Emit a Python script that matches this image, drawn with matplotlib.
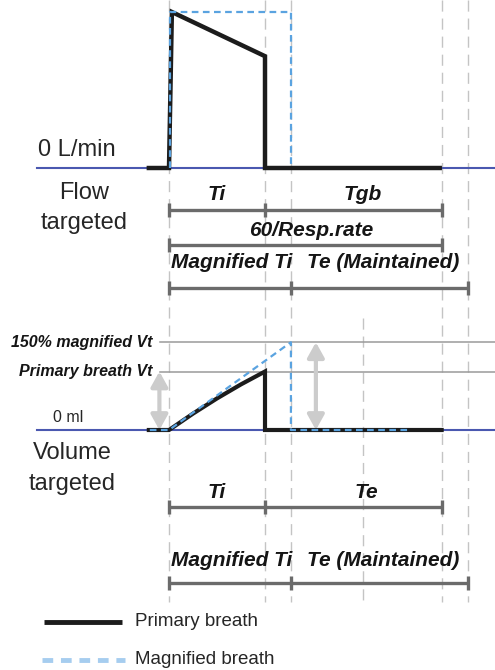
import matplotlib.pyplot as plt

plt.rcParams["font.family"] = ["Liberation Sans", "DejaVu Sans"]

# timing (s) measured from start of inspiration
T_I = 1.0          # primary inspiratory time
T_I_MAG = 1.27     # magnified inspiratory time
T_CYCLE = 2.84     # 60/Resp.rate
T_CYCLE_MAG = 3.11 # magnified Ti + maintained Te
T_MID = 2.02

# flow-targeted breath (L/min)
flow_t = [-0.21, 0.0, 0.03, T_I, T_I, 2.82]
flow_v = [0, 0, 60, 43, 0, 0]
mag_flow_t = [0.01, 0.01, T_I_MAG, T_I_MAG]
mag_flow_v = [0, 60, 60, 0]

# volume-targeted breath (ml)
VT_PRIMARY = 300
VT_MAG = 450
vol_t = [-0.21, 0.0, 0.25, 0.5, 0.75, T_I, T_I, T_CYCLE]
vol_v = [0, 0, 84, 162, 234, VT_PRIMARY, 0, 0]
mag_vol_t = [-0.2, 0.0, T_I_MAG, T_I_MAG, 2.48]
mag_vol_v = [0, 0, VT_MAG, 0, 0]

# vertical guide lines: (time, top row, bottom row)
guides = [(0.0, 0, 602), (T_I, 0, 602), (T_I_MAG, 0, 602),
          (T_MID, 318, 602), (T_CYCLE, 0, 602), (T_CYCLE_MAG, 0, 602)]

# dimension brackets: (row, tick times, labels, label times, label row)
brackets = [
    (210, [0.0, T_I, T_CYCLE], ["Ti", "Tgb"], [0.5, 2.02], 194),
    (245, [0.0, T_CYCLE], ["60/Resp.rate"], [1.48], 231),
    (288, [0.0, T_I_MAG, T_CYCLE_MAG], ["Magnified Ti", "Te (Maintained)"], [0.65, 2.23], 263),
    (507, [0.0, T_I, T_CYCLE], ["Ti", "Te"], [0.5, 2.06], 492),
    (583, [0.0, T_I_MAG, T_CYCLE_MAG], ["Magnified Ti", "Te (Maintained)"], [0.65, 2.23], 560),
]

W, H = 495, 670
X0, X1 = -169 / 96, (W - 169) / 96

fig = plt.figure(figsize=(W / 100, H / 100), dpi=100)

def full_axes(ylim):
    ax = fig.add_axes([0, 0, 1, 1])
    ax.set_xlim(X0, X1)
    ax.set_ylim(*ylim)
    ax.axis("off")
    ax.patch.set_alpha(0)
    return ax

lay = full_axes((H, 0))                  # layout rows, pixels from top
ax_flow = full_axes((-(H - 168) / 2.6, 168 / 2.6))
ax_vol = full_axes((-(H - 430) / 0.195, 430 / 0.195))

GRID = "#c4c4c4"
DIM = "#6b6b6b"
BASE = "#4a58b0"
BLUE = "#5aa3e0"
BLACK = "#1c1c1c"
TEXT = "#262626"

for t, y0, y1 in guides:
    lay.plot([t, t], [y0, y1], color=GRID, lw=1.0, ls=(0, (8, 5)), zorder=1)

# flow panel
ax_flow.plot([-1.38, X1], [0, 0], color=BASE, lw=1.5, zorder=2)
ax_flow.plot(flow_t, flow_v, color=BLACK, lw=3.2, solid_joinstyle="miter", zorder=3)
ax_flow.plot(mag_flow_t, mag_flow_v, color=BLUE, lw=1.6, ls=(0, (3, 2)), zorder=4)
fig.text(38 / W, 1 - 150 / H, "0 L/min", fontsize=17, va="center", ha="left", color=TEXT)
fig.text(84 / W, 1 - 193 / H, "Flow", fontsize=17, va="center", ha="center", color=TEXT)
fig.text(84 / W, 1 - 223 / H, "targeted", fontsize=17, va="center", ha="center", color=TEXT)

# volume panel
for v in (VT_PRIMARY, VT_MAG):
    ax_vol.plot([-0.09, X1], [v, v], color="#9a9a9a", lw=1.1, zorder=2)
ax_vol.plot([-1.37, X1], [0, 0], color=BASE, lw=1.5, zorder=2)
ax_vol.plot(vol_t, vol_v, color=BLACK, lw=3.0, solid_joinstyle="miter", zorder=3)
ax_vol.plot(mag_vol_t, mag_vol_v, color=BLUE, lw=1.6, ls=(0, (3, 2)), zorder=4)

arrow = dict(arrowstyle="<|-|>,head_length=0.9,head_width=0.5", color="#cccccc",
             lw=3, shrinkA=0, shrinkB=0)
ax_vol.annotate("", xy=(-0.10, 0), xytext=(-0.10, VT_PRIMARY), arrowprops=arrow, zorder=2)
ax_vol.annotate("", xy=(1.53, 0), xytext=(1.53, VT_MAG), arrowprops=arrow, zorder=2)

vt_font = dict(fontsize=11.5, fontweight="bold", fontstyle="italic", ha="right",
               va="center", color="#151515")
ax_vol.text(-0.17, VT_MAG, "150% magnified Vt", **vt_font)
ax_vol.text(-0.17, VT_PRIMARY, "Primary breath Vt", **vt_font)
fig.text(53 / W, 1 - 417 / H, "0 ml", fontsize=11.5, va="center", ha="left", color=TEXT)
fig.text(72 / W, 1 - 453 / H, "Volume", fontsize=17, va="center", ha="center", color=TEXT)
fig.text(72 / W, 1 - 484 / H, "targeted", fontsize=17, va="center", ha="center", color=TEXT)

# dimension brackets with labels
for row, ticks, labels, label_t, label_row in brackets:
    lay.plot([ticks[0], ticks[-1]], [row, row], color=DIM, lw=2.4, zorder=5,
             solid_capstyle="butt")
    for t in ticks:
        lay.plot([t, t], [row - 7, row + 7], color=DIM, lw=2.4, zorder=5,
                 solid_capstyle="butt")
    for t, text in zip(label_t, labels):
        lay.text(t, label_row, text, fontsize=15, fontweight="bold",
                 fontstyle="italic", ha="center", va="center", color="#151515")

# legend
lay.plot([-1.30, -0.49], [622, 622], color=BLACK, lw=3.5, solid_capstyle="butt")
lay.plot([-1.32, -0.46], [660, 660], color="#a6cdef", lw=3.5, ls=(0, (2.2, 1.6)))
lay.text(-0.35, 621, "Primary breath", fontsize=13.5, va="center", ha="left", color=TEXT)
lay.text(-0.35, 659, "Magnified breath", fontsize=13.5, va="center", ha="left", color=TEXT)

fig.savefig("out.png", dpi=100)
